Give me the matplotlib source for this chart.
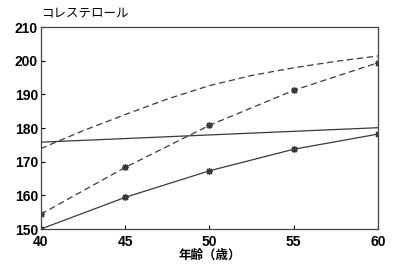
import matplotlib
matplotlib.use("Agg")
import matplotlib.pyplot as plt

# data
ages = [40, 45, 50, 55, 60]
chol_solid_star = [150.0, 159.4, 167.3, 173.7, 178.2]
chol_dash_star = [154.4, 168.3, 180.8, 191.2, 199.4]
flat_ages = [40, 60]
chol_flat = [175.8, 180.1]
curve_ages = [40, 42.5, 45, 47.5, 50, 52.5, 55, 57.5, 60]
chol_curve = [173.9, 179.2, 184.0, 188.6, 192.6, 195.6, 197.9, 199.8, 201.4]

yticks = [150, 160, 170, 180, 190, 200, 210]

plt.rcParams['font.family'] = ['Liberation Sans', 'Noto Sans CJK JP']

fig = plt.figure(figsize=(4.0, 2.73), dpi=100)
ax = fig.add_axes([0.102, 0.161, 0.843, 0.74])

col = '#3a3a3a'
star = (8, 2, 0)  # asterisk marker

ax.plot(flat_ages, chol_flat, color=col, lw=0.9)
ax.plot(curve_ages, chol_curve, color=col, lw=0.9, ls=(0, (5, 3)))
ax.plot(ages, chol_dash_star, color=col, lw=0.9, ls=(0, (5, 3)),
        marker=star, ms=5, mew=0.9)
ax.plot(ages, chol_solid_star, color=col, lw=0.9,
        marker=star, ms=5, mew=0.9)

ax.set_xlim(40, 60)
ax.set_ylim(150, 210)
ax.set_xticks(ages)
ax.set_yticks(yticks)
ax.tick_params(direction='in', length=3, width=0.8, labelsize=10, pad=2)
ax.tick_params(axis='x', pad=4)
for lab in ax.get_xticklabels() + ax.get_yticklabels():
    lab.set_fontweight('bold')
for s in ax.spines.values():
    s.set_linewidth(0.9)
    s.set_color('#444444')

fig.text(0.102, 0.925, 'コレステロール', fontsize=9,
         family=['Noto Sans CJK JP'], ha='left', va='bottom')
ax.set_xlabel('年齢（歳）', fontsize=9, family=['Noto Sans CJK JP'],
              fontweight='bold', labelpad=0)

fig.savefig('out.png', dpi=100)
